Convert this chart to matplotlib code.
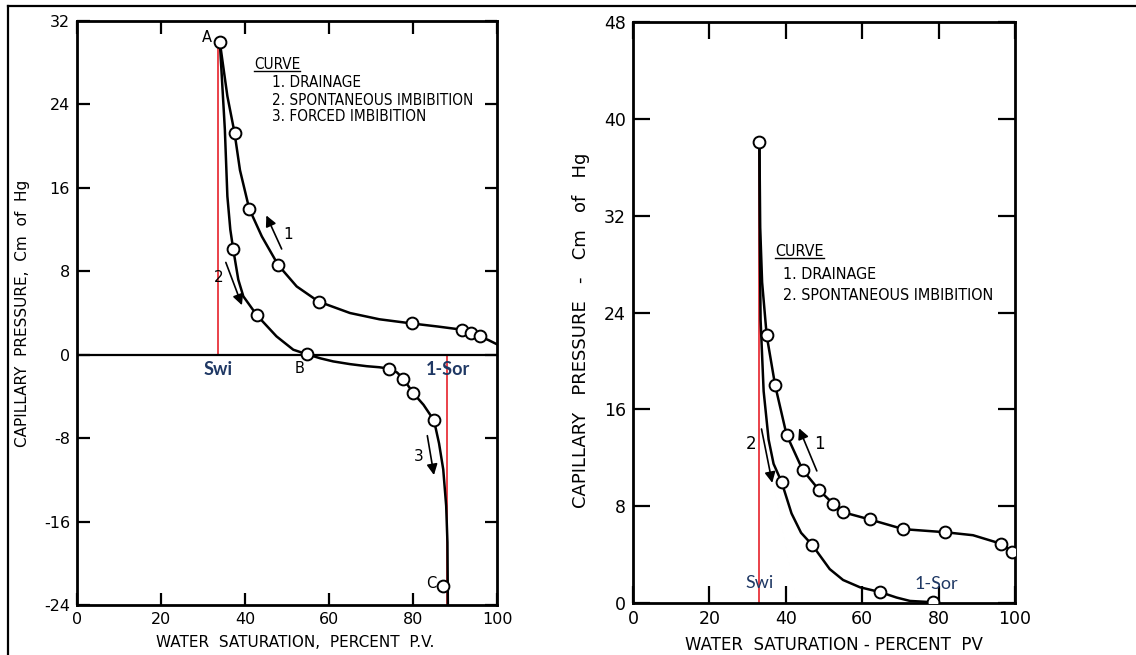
import matplotlib
matplotlib.use("Agg")
import matplotlib.pyplot as plt
from matplotlib.lines import Line2D

plt.rcParams["axes.unicode_minus"] = False

# ---- left panel: drainage / spontaneous / forced imbibition ----
L_drain_sw = [34.0, 37.5, 41.0, 47.9, 57.5, 79.7, 91.7, 93.8, 96.0]
L_drain_pc = [30.0, 21.3, 14.0, 8.6, 5.1, 3.0, 2.4, 2.1, 1.75]
L_drain_line_sw = [34, 35.8, 37.5, 38.8, 41.0, 44.0, 47.9, 52.3, 57.5, 65, 72, 79.7, 86, 91.7, 96, 98, 100]
L_drain_line_pc = [30, 24.8, 21.3, 17.7, 14.0, 11.35, 8.6, 6.55, 5.1, 4.0, 3.4, 3.0, 2.7, 2.4, 1.75, 1.4, 1.0]

L_spont_sw = [37.2, 42.8, 54.7]
L_spont_pc = [10.1, 3.8, 0.05]
L_spont_line_sw = [34, 35.2, 35.8, 36.5, 37.2, 38.4, 39.6, 42.8, 47.5, 51.5, 54.7]
L_spont_line_pc = [30, 21.6, 15.2, 12.0, 10.1, 7.2, 5.6, 3.8, 1.76, 0.48, 0.05]

L_forced_sw = [74.4, 77.7, 80.1, 85.0, 87.2]
L_forced_pc = [-1.34, -2.3, -3.7, -6.3, -22.2]
L_forced_line_sw = [54.7, 58, 61, 65, 69, 72, 74.4, 76.2, 77.7, 80.1, 82.5, 85.0, 86.2, 87.2, 87.9, 88.2, 88.3]
L_forced_line_pc = [0.05, -0.35, -0.64, -0.9, -1.1, -1.2, -1.34, -1.7, -2.3, -3.7, -4.8, -6.3, -8.5, -11, -14.5, -18, -24]

L_swi, L_sor = 33.6, 88.2
L_swi_top = 30.0

# ---- right panel: drainage / spontaneous imbibition ----
R_drain_sw = [33.1, 35.0, 37.2, 40.2, 44.4, 48.8, 52.4, 55.0, 62.0, 70.8, 81.6, 96.3, 99.2]
R_drain_pc = [38.1, 22.1, 18.0, 13.9, 11.0, 9.3, 8.2, 7.5, 6.9, 6.1, 5.85, 4.9, 4.25]
R_drain_line_sw = [33.1, 33.3, 33.8, 35.0, 37.2, 40.2, 44.4, 48.8, 52.4, 55.0, 62.0, 70.8, 81.6, 89.0, 96.3, 99.2, 100.0]
R_drain_line_pc = [38.1, 31.0, 26.5, 22.1, 18.0, 13.9, 11.0, 9.3, 8.2, 7.5, 6.9, 6.1, 5.85, 5.6, 4.9, 4.25, 4.1]

R_spont_sw = [38.9, 46.9, 64.7, 78.6]
R_spont_pc = [10.0, 4.8, 0.9, 0.06]
R_spont_line_sw = [33.1, 33.2, 33.4, 34.2, 35.5, 36.8, 38.9, 41.5, 44.0, 46.9, 51.5, 55.0, 59.4, 64.7, 69.0, 72.5, 78.6]
R_spont_line_pc = [38.1, 30.0, 23.4, 17.5, 13.5, 11.5, 10.0, 7.4, 5.8, 4.8, 2.8, 1.9, 1.3, 0.9, 0.45, 0.17, 0.06]

R_swi = 33.0
R_swi_top = 38.1

RED = "#e8333a"
NAVY = "#1f3864"

fig = plt.figure(figsize=(11.36, 6.55), dpi=100)
axL = fig.add_axes([0.0678, 0.0763, 0.3697, 0.8916])
axR = fig.add_axes([0.5572, 0.0794, 0.3363, 0.887])

mk = dict(marker="o", ms=8.5, mfc="white", mec="black", mew=1.4, ls="none", zorder=5)
arr = dict(arrowstyle="-|>", color="black", lw=1.2, mutation_scale=16)
leg = dict(family="DejaVu Sans", fontstretch="condensed", va="center")

# left
axL.plot([L_swi, L_swi], [L_swi_top, 0], color=RED, lw=1.3, zorder=2)
axL.plot([L_sor, L_sor], [0, -24], color=RED, lw=1.3, zorder=2)
axL.axhline(0, color="black", lw=1.6, zorder=3)
axL.plot(L_drain_line_sw, L_drain_line_pc, color="black", lw=1.8, zorder=4)
axL.plot(L_spont_line_sw, L_spont_line_pc, color="black", lw=1.8, zorder=4)
axL.plot(L_forced_line_sw, L_forced_line_pc, color="black", lw=1.8, zorder=4)
axL.plot(L_drain_sw, L_drain_pc, **mk)
axL.plot(L_spont_sw, L_spont_pc, **mk)
axL.plot(L_forced_sw, L_forced_pc, **mk)

axL.text(31.0, 30.4, "A", fontsize=10.5, ha="center", va="center")
axL.text(53.1, -1.3, "B", fontsize=10.5, ha="center", va="center")
axL.text(84.4, -21.9, "C", fontsize=10.5, ha="center", va="center")

axL.annotate("", xy=(44.8, 13.6), xytext=(49.0, 9.9), arrowprops=arr)
axL.text(50.2, 11.5, "1", fontsize=11, ha="center", va="center")
axL.annotate("", xy=(39.5, 4.5), xytext=(35.2, 9.1), arrowprops=arr)
axL.text(33.8, 7.4, "2", fontsize=11, ha="center", va="center")
axL.annotate("", xy=(85.1, -11.8), xytext=(83.3, -7.5), arrowprops=arr)
axL.text(81.4, -9.75, "3", fontsize=11, ha="center", va="center")

axL.text(33.6, -1.45, "Swi", fontsize=13, color=NAVY, family="Lato", fontweight="bold",
         ha="center", va="center")
axL.text(88.3, -1.45, "1-Sor", fontsize=13, color=NAVY, family="Lato", fontweight="bold",
         ha="center", va="center")

tL = axL.text(42.1, 27.8, "CURVE", fontsize=11, **leg)
axL.text(46.4, 26.1, "1. DRAINAGE", fontsize=11, **leg)
axL.text(46.4, 24.4, "2. SPONTANEOUS IMBIBITION", fontsize=11, **leg)
axL.text(46.4, 22.8, "3. FORCED IMBIBITION", fontsize=11, **leg)

axL.set_xlim(0, 100)
axL.set_ylim(-24, 32)
axL.set_xticks(range(0, 101, 20))
axL.set_yticks(range(-24, 33, 8))
axL.tick_params(direction="in", length=9, width=1.6, top=True, right=True,
                labelsize=11.5, pad=5)
axL.set_xlabel("WATER  SATURATION,  PERCENT  P.V.", fontsize=11)
axL.set_ylabel("CAPILLARY  PRESSURE,  Cm  of  Hg", fontsize=11)
axL.xaxis.set_label_coords(0.519, -0.051)
axL.yaxis.set_label_coords(-0.112, 0.5)

# right
axR.plot([R_swi, R_swi], [R_swi_top, 0], color=RED, lw=1.3, zorder=2)
axR.plot(R_drain_line_sw, R_drain_line_pc, color="black", lw=1.8, zorder=4)
axR.plot(R_spont_line_sw, R_spont_line_pc, color="black", lw=1.8, zorder=4)
axR.plot(R_drain_sw, R_drain_pc, **mk)
axR.plot(R_spont_sw, R_spont_pc, **mk)

axR.annotate("", xy=(43.2, 14.65), xytext=(48.4, 10.7), arrowprops=arr)
axR.text(48.8, 13.1, "1", fontsize=12, ha="center", va="center")
axR.annotate("", xy=(36.6, 9.7), xytext=(33.5, 14.6), arrowprops=arr)
axR.text(30.8, 13.1, "2", fontsize=12, ha="center", va="center")

axR.text(33.0, 1.65, "Swi", fontsize=13, color=NAVY, family="Lato", ha="center", va="center")
axR.text(79.5, 1.6, "1-Sor", fontsize=13, color=NAVY, family="Lato", ha="center", va="center")

tR = axR.text(37.2, 29.0, "CURVE", fontsize=11.5, **leg)
axR.text(39.3, 27.1, "1. DRAINAGE", fontsize=11.5, **leg)
axR.text(39.3, 25.4, "2. SPONTANEOUS IMBIBITION", fontsize=11.5, **leg)

axR.set_xlim(0, 100)
axR.set_ylim(0, 48)
axR.set_xticks(range(0, 101, 20))
axR.set_yticks(range(0, 49, 8))
axR.tick_params(direction="in", length=12, width=1.6, top=True, right=True,
                labelsize=12.5, pad=5)
axR.set_xlabel("WATER  SATURATION - PERCENT  PV", fontsize=12)
axR.set_ylabel("CAPILLARY   PRESSURE   -   Cm   of   Hg", fontsize=13)
axR.xaxis.set_label_coords(0.526, -0.057)
axR.yaxis.set_label_coords(-0.113, 0.47)

for ax in (axL, axR):
    for s in ax.spines.values():
        s.set_linewidth(2.0)

# underline the "CURVE" headings
fig.canvas.draw()
for t in (tL, tR):
    bb = t.get_window_extent().transformed(fig.transFigure.inverted())
    fig.add_artist(Line2D([bb.x0, bb.x1], [bb.y0 + 0.002, bb.y0 + 0.002],
                          color="black", lw=1.0, transform=fig.transFigure))

# outer frame (top and left edges)
fig.add_artist(Line2D([8 / 1136, 1], [1 - 6 / 655, 1 - 6 / 655], color="black", lw=1.6,
                      transform=fig.transFigure))
fig.add_artist(Line2D([8 / 1136, 8 / 1136], [0, 1 - 6 / 655], color="black", lw=1.6,
                      transform=fig.transFigure))

fig.savefig("out.png", dpi=100)
